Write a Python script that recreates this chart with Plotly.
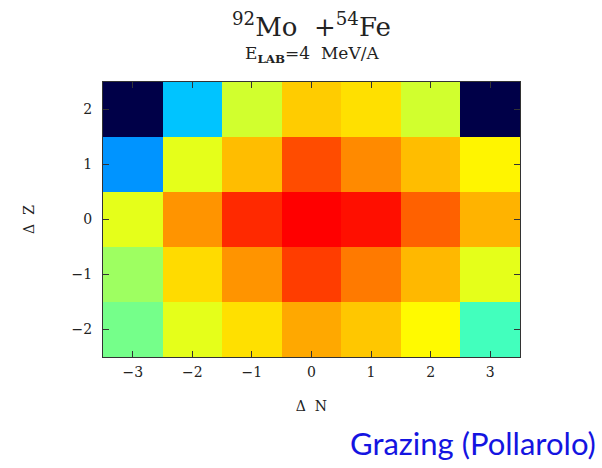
import plotly.graph_objects as go

# Transfer grid: neutron (ΔN) and proton (ΔZ) transfers
delta_n = [-3, -2, -1, 0, 1, 2, 3]
delta_z = [-2, -1, 0, 1, 2]
n_labels = ["\u22123", "\u22122", "\u22121", "0", "1", "2", "3"]
z_labels = ["\u22122", "\u22121", "0", "1", "2"]

# Relative yield (colour-scale units) per ΔZ row, ordered ΔN = -3 .. 3
yield_dz_m2 = [0.49, 0.60, 0.655, 0.71, 0.68, 0.63, 0.44]
yield_dz_m1 = [0.53, 0.66, 0.73, 0.815, 0.755, 0.695, 0.60]
yield_dz_0 = [0.60, 0.73, 0.835, 0.875, 0.86, 0.78, 0.70]
yield_dz_p1 = [0.27, 0.60, 0.69, 0.80, 0.74, 0.69, 0.635]
yield_dz_p2 = [0.0, 0.317, 0.58, 0.675, 0.655, 0.58, 0.0]

z = [yield_dz_m2, yield_dz_m1, yield_dz_0, yield_dz_p1, yield_dz_p2]

jet = [
    [0.0, "rgb(0,0,72)"],
    [0.125, "rgb(0,0,255)"],
    [0.375, "rgb(0,255,255)"],
    [0.625, "rgb(255,255,0)"],
    [0.875, "rgb(255,0,0)"],
    [1.0, "rgb(128,0,0)"],
]

serif = "DejaVu Serif"
ink = "#222222"

fig = go.Figure(
    go.Heatmap(
        x=delta_n,
        y=delta_z,
        z=z,
        colorscale=jet,
        zmin=0,
        zmax=1,
        showscale=False,
        xgap=0,
        ygap=0,
    )
)

axis_common = dict(
    showgrid=False,
    zeroline=False,
    showline=True,
    linecolor="#333333",
    linewidth=1,
    mirror="allticks",
    ticks="inside",
    ticklen=6,
    tickcolor="#333333",
    tickfont=dict(family=serif, size=14, color=ink),
)

fig.update_xaxes(
    range=[-3.5, 3.5],
    tickvals=delta_n,
    ticktext=n_labels,
    ticklabelstandoff=2,
    title=dict(text="\u0394&nbsp;&nbsp;N", font=dict(family=serif, size=14, color=ink), standoff=22),
    **axis_common,
)
fig.update_yaxes(
    range=[-2.5, 2.5],
    tickvals=delta_z,
    ticktext=z_labels,
    ticklabelstandoff=7,
    title=dict(text="\u0394&nbsp;&nbsp;Z", font=dict(family=serif, size=14, color=ink), standoff=33),
    **axis_common,
)

fig.add_annotation(
    x=0.5, y=1, xref="paper", yref="paper", xanchor="center", yanchor="middle", yshift=57,
    text="<sup>92</sup>Mo&nbsp;&nbsp;+<sup>54</sup>Fe",
    showarrow=False, font=dict(family=serif, size=26, color=ink),
)
fig.add_annotation(
    x=0.5, y=1, xref="paper", yref="paper", xanchor="center", yanchor="bottom", yshift=14,
    text="E<sub><b>LAB</b></sub>=4&nbsp;&nbsp;MeV/A",
    showarrow=False, font=dict(family=serif, size=17, color=ink),
)
fig.add_annotation(
    x=1.0, y=0.0, xref="paper", yref="paper", xanchor="right", yanchor="middle",
    xshift=78, yshift=-86,
    text="Grazing (Pollarolo)",
    showarrow=False, font=dict(family="Lato", size=31, color="rgb(20,20,225)"),
)

fig.update_layout(
    width=602,
    height=468,
    margin=dict(l=103, r=82, t=82, b=111),
    paper_bgcolor="white",
    plot_bgcolor="white",
)

fig.write_html("out.html")
